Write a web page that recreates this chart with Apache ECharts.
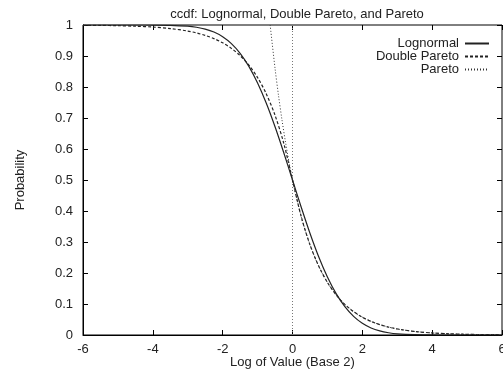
<!DOCTYPE html>
<html>
<head>
<meta charset="utf-8">
<script src="https://cdn.jsdelivr.net/npm/echarts@6/dist/echarts.min.js"></script>
<style>
  html, body { margin: 0; padding: 0; background: #fff; }
  #chart { width: 503px; height: 372px; }
</style>
</head>
<body>
<div id="chart"></div>
<script>
// x = log2 of value
var xGrid = [-6, -5.5, -5, -4.5, -4, -3.5, -3, -2.75, -2.5, -2.25, -2, -1.75, -1.5, -1.25, -1, -0.75, -0.5, -0.25,
  0, 0.25, 0.5, 0.75, 1, 1.25, 1.5, 1.75, 2, 2.25, 2.5, 2.75, 3, 3.5, 4, 4.5, 5, 5.5, 6]
var lognormal = [1.0, 1.0, 1.0, 0.99997, 0.9998, 0.9991, 0.9962, 0.9927, 0.9868, 0.9772, 0.9622, 0.94, 0.9087, 0.8667, 0.8129, 0.7475, 0.6716, 0.5879,
  0.5, 0.4121, 0.3284, 0.2525, 0.1871, 0.1333, 0.0913, 0.06, 0.0378, 0.0228, 0.0132, 0.0073, 0.0038, 0.0009, 0.0002, 0.00003, 0, 0, 0]
var doublePareto = [0.9992, 0.9987, 0.9978, 0.9962, 0.9934, 0.9886, 0.9805, 0.9744, 0.9665, 0.9561, 0.9425, 0.9246, 0.9012, 0.8706, 0.8304, 0.7778, 0.7088, 0.6184,
  0.5, 0.3816, 0.2912, 0.2222, 0.1696, 0.1294, 0.0988, 0.0754, 0.0575, 0.0439, 0.0335, 0.0256, 0.0195, 0.0114, 0.0066, 0.0038, 0.0022, 0.0013, 0.0008]
var paretoX = [-0.64, -0.5, -0.4, -0.3, -0.2, -0.1, 0, 0.25, 0.5, 0.75, 1, 1.25, 1.5, 1.75, 2, 2.25, 2.5, 2.75, 3, 3.5, 4, 4.5, 5, 5.5, 6]
var pareto = [1.0, 0.86, 0.772, 0.693, 0.622, 0.558, 0.5, 0.3816, 0.2912, 0.2222, 0.1696, 0.1294, 0.0988, 0.0754, 0.0575, 0.0439, 0.0335, 0.0256, 0.0195, 0.0114, 0.0066, 0.0038, 0.0022, 0.0013, 0.0008]
var xTickLabels = ['-6', '-4', '-2', '0', '2', '4', '6']
var yTickLabels = ['0', '0.1', '0.2', '0.3', '0.4', '0.5', '0.6', '0.7', '0.8', '0.9', '1']

function pairs(xs, ys) {
  return xs.map(function (x, i) { return [x, ys[i]] })
}

var font = "'Liberation Sans', Arial, sans-serif"
var myChart = echarts.init(document.getElementById('chart'))

var tick = { show: true, inside: true, length: 5, lineStyle: { color: '#000', width: 1 } }

var option = {
  animation: false,
  backgroundColor: '#fff',
  title: {
    text: 'ccdf: Lognormal, Double Pareto, and Pareto',
    left: 292,
    textAlign: 'center',
    top: 3,
    textStyle: { fontFamily: font, fontSize: 13, fontWeight: 'normal', color: '#222' }
  },
  legend: {
    data: ['Lognormal', 'Double Pareto', 'Pareto'],
    orient: 'vertical',
    align: 'right',
    right: 8,
    top: 32,
    itemWidth: 24,
    itemHeight: 8,
    itemGap: 0,
    itemStyle: { opacity: 0 },
    textStyle: { fontFamily: font, fontSize: 13, color: '#222', padding: [0, 1, 0, 0] }
  },
  grid: {
    left: 83, right: 1, top: 25, bottom: 37,
    outerBoundsMode: 'none',
    show: true, borderColor: '#000', borderWidth: 1
  },
  xAxis: [{
    type: 'value', min: -6, max: 6, interval: 2,
    name: 'Log of Value (Base 2)', nameLocation: 'middle', nameGap: 21, nameMoveOverlap: false,
    nameTextStyle: { fontFamily: font, fontSize: 13, color: '#222' },
    axisLine: { show: true, onZero: false, lineStyle: { color: '#000' } },
    axisTick: tick,
    axisLabel: {
      fontFamily: font, fontSize: 13, color: '#222', margin: 8,
      formatter: function (v) { return xTickLabels[Math.round((v + 6) / 2)] }
    },
    splitLine: { show: false }
  }, {
    type: 'value', min: -6, max: 6, interval: 2, position: 'top',
    axisLine: { show: false, onZero: false }, axisTick: tick, axisLabel: { show: false }, splitLine: { show: false }
  }],
  yAxis: [{
    type: 'value', min: 0, max: 1, interval: 0.1,
    name: 'Probability', nameLocation: 'middle', nameGap: 56, nameRotate: 90, nameMoveOverlap: false,
    nameTextStyle: { fontFamily: font, fontSize: 13, color: '#222' },
    axisLine: { show: true, onZero: false, lineStyle: { color: '#000' } },
    axisTick: tick,
    axisLabel: {
      fontFamily: font, fontSize: 13, color: '#222', margin: 10,
      formatter: function (v) { return yTickLabels[Math.round(v * 10)] }
    },
    splitLine: { show: false }
  }, {
    type: 'value', min: 0, max: 1, interval: 0.1, position: 'right',
    axisLine: { show: false, onZero: false }, axisTick: tick, axisLabel: { show: false }, splitLine: { show: false }
  }],
  series: [
    {
      name: 'zero', type: 'line', silent: true, showSymbol: false, symbol: 'none',
      data: [[0, 0], [0, 1]],
      lineStyle: { color: '#777', width: 1, type: [1, 2] }
    },
    {
      name: 'Lognormal', type: 'line', smooth: 0.3, showSymbol: false, symbol: 'none',
      data: pairs(xGrid, lognormal),
      color: '#222',
      lineStyle: { color: '#222', width: 1.2, type: 'solid' }
    },
    {
      name: 'Double Pareto', type: 'line', smooth: 0.3, showSymbol: false, symbol: 'none',
      data: pairs(xGrid, doublePareto),
      color: '#222',
      lineStyle: { color: '#222', width: 1.2, type: [3, 2] }
    },
    {
      name: 'Pareto', type: 'line', smooth: 0.3, showSymbol: false, symbol: 'none',
      data: pairs(paretoX, pareto),
      color: '#333',
      lineStyle: { color: '#333', width: 1, type: [1, 2] }
    }
  ]
}

option && myChart.setOption(option)
</script>
</body>
</html>
